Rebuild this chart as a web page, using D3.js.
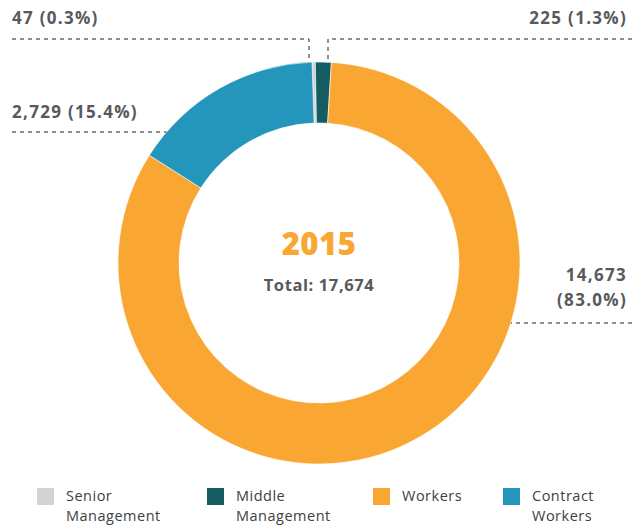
<!DOCTYPE html>
<html><head><meta charset="utf-8">
<script src="https://cdn.jsdelivr.net/npm/d3@7"></script>
<style>
html,body{margin:0;padding:0;background:#fff;}
svg{display:block;}
text{font-family:"Open Sans",Lato,sans-serif;}
</style></head>
<body>
<svg id="chart" width="638" height="526"></svg>
<script>
// ---- data ----
const categories = ["Senior Management", "Middle Management", "Workers", "Contract Workers"];
const values = [47, 225, 14673, 2729];
const percentLabels = ["0.3%", "1.3%", "83.0%", "15.4%"];
const legendLines = [["Senior", "Management"], ["Middle", "Management"], ["Workers"], ["Contract", "Workers"]];
const yearLabel = "2015";
const totalValue = 17674;

// ---- styles / layout ----
const colors = ["#d1d3d4", "#165c63", "#f9a633", "#2495bb"];
const cx = 319, cy = 263, R = 201, r = 140;
const textColor = "#58595b";
const fmt = d3.format(",");

const svg = d3.select("#chart");
const color = d3.scaleOrdinal().domain(categories).range(colors);

const startDeg = -2;
const pie = d3.pie().sort(null).value(d => d.v)
  .startAngle(startDeg * Math.PI / 180)
  .endAngle((startDeg + 360) * Math.PI / 180);
const data = categories.map((c, i) => ({c, v: values[i], p: percentLabels[i]}));
const arcs = pie(data);
const arc = d3.arc().innerRadius(r).outerRadius(R);

const g = svg.append("g").attr("transform", `translate(${cx},${cy})`);
g.selectAll("path").data(arcs).enter().append("path")
  .attr("d", arc)
  .attr("fill", d => color(d.data.c))
  .attr("stroke", "#fff").attr("stroke-width", 0.6);

// centre text
svg.append("text").attr("x", cx).attr("y", 255).attr("text-anchor", "middle")
  .attr("font-size", 31).attr("font-weight", 800).attr("fill", "#f9a633")
  .attr("letter-spacing", 0.5).text(yearLabel);
svg.append("text").attr("x", cx).attr("y", 291).attr("text-anchor", "middle")
  .attr("font-size", 16.5).attr("font-weight", 700).attr("fill", textColor)
  .attr("letter-spacing", 0.6).text("Total: " + fmt(totalValue));

// labels + leader lines
const dash = "4,4";
const lineColor = "#222";
function ringY(x) { const dx = x - cx; return cy - Math.sqrt(R * R - dx * dx); }
function ringX(y, side) { const dy = y - cy; return cx + side * Math.sqrt(R * R - dy * dy); }

const leaderTopY = 39;
const labelCfg = [
  {lines: [fmt(values[0]) + " (" + percentLabels[0] + ")"], x: 12, y: [24], anchor: "start",
   path: () => { const lx = cx - 10; return [[12, leaderTopY], [lx, leaderTopY], [lx, ringY(lx)]]; }},
  {lines: [fmt(values[1]) + " (" + percentLabels[1] + ")"], x: 627, y: [24], anchor: "end",
   path: () => { const lx = cx + 9; return [[632, leaderTopY], [lx, leaderTopY], [lx, ringY(lx)]]; }},
  {lines: [fmt(values[2]), "(" + percentLabels[2] + ")"], x: 627, y: [281, 306], anchor: "end",
   path: () => [[632, 323], [ringX(323, 1), 323]]},
  {lines: [fmt(values[3]) + " (" + percentLabels[3] + ")"], x: 12, y: [118], anchor: "start",
   path: () => [[12, 132], [ringX(132, -1), 132]]}
];

labelCfg.forEach(cfg => {
  cfg.lines.forEach((t, j) => {
    svg.append("text").attr("x", cfg.x).attr("y", cfg.y[j]).attr("text-anchor", cfg.anchor)
      .attr("font-size", 17).attr("font-weight", 700).attr("fill", textColor)
      .attr("letter-spacing", 1.3).text(t);
  });
  svg.append("path").attr("d", d3.line()(cfg.path()))
    .attr("fill", "none").attr("stroke", lineColor).attr("stroke-width", 1)
    .attr("stroke-dasharray", dash);
});

// legend
const legendX = [37, 207, 373, 503];
const lg = svg.append("g");
categories.forEach((c, i) => {
  lg.append("rect").attr("x", legendX[i]).attr("y", 488).attr("width", 17).attr("height", 17)
    .attr("fill", color(c));
  legendLines[i].forEach((t, j) => {
    lg.append("text").attr("x", legendX[i] + 29).attr("y", 501 + j * 20)
      .attr("font-size", 14.5).attr("fill", "#414042").attr("letter-spacing", 0.5).text(t);
  });
});
</script>
</body></html>
